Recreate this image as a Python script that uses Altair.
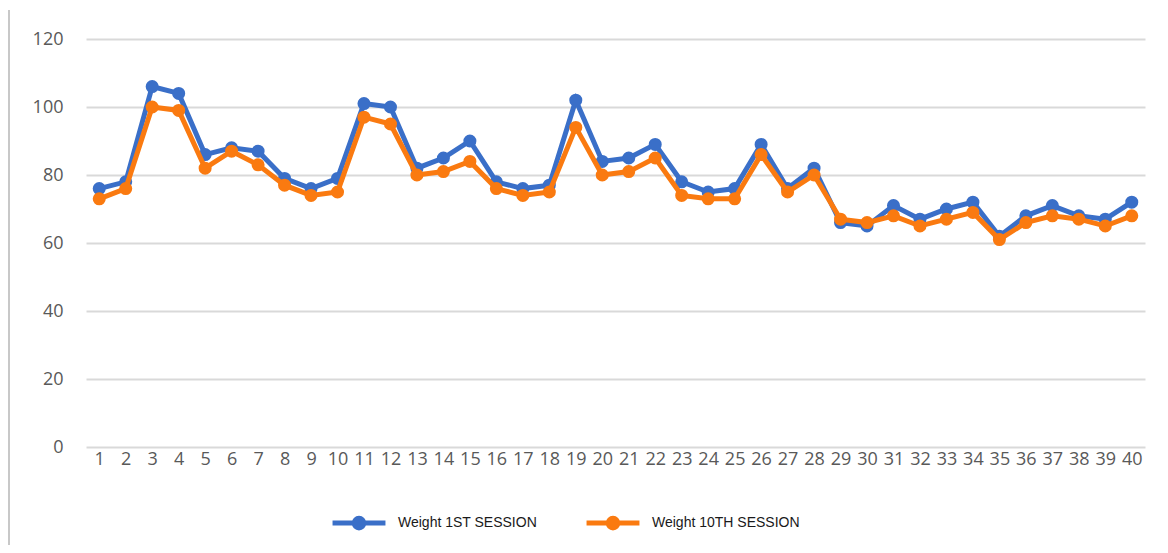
import altair as alt
import pandas as pd

sessions = list(range(1, 41))
weight_1st = [76, 78, 106, 104, 86, 88, 87, 79, 76, 79,
              101, 100, 82, 85, 90, 78, 76, 77, 102, 84,
              85, 89, 78, 75, 76, 89, 76, 82, 66, 65,
              71, 67, 70, 72, 62, 68, 71, 68, 67, 72]
weight_10th = [73, 76, 100, 99, 82, 87, 83, 77, 74, 75,
               97, 95, 80, 81, 84, 76, 74, 75, 94, 80,
               81, 85, 74, 73, 73, 86, 75, 80, 67, 66,
               68, 65, 67, 69, 61, 66, 68, 67, 65, 68]
series_names = ["Weight 1ST SESSION", "Weight 10TH SESSION"]
series_colors = ["#3a6fc8", "#fa7a10"]
y_ticks = [0, 20, 40, 60, 80, 100, 120]

rows = []
for s, v in zip(sessions, weight_1st):
    rows.append({"n": s, "weight": v, "series": series_names[0]})
for s, v in zip(sessions, weight_10th):
    rows.append({"n": s, "weight": v, "series": series_names[1]})
df = pd.DataFrame(rows)

legend_symbol = ("M -1,0 L 1,0 M -0.18,0 A 0.18,0.18 0 1,0 0.18,0 "
                 "A 0.18,0.18 0 1,0 -0.18,0 Z")

color = alt.Color(
    "series:N",
    scale=alt.Scale(domain=series_names, range=series_colors),
    legend=alt.Legend(
        title=None, orient="none", direction="horizontal",
        legendX=244, legendY=455, padding=0,
        symbolType=legend_symbol, symbolSize=2800, symbolStrokeWidth=5,
        symbolOpacity=1, labelFont="Liberation Sans", labelFontSize=14,
        labelColor="#1a1a1a", labelOffset=10, columnPadding=38,
        labelLimit=300,
    ),
)

x = alt.X("n:O", scale=alt.Scale(padding=0.5),
          axis=alt.Axis(title=None, labelAngle=0, labelOverlap=False,
                        domain=False, ticks=False, labelPadding=3,
                        labelFont="Open Sans", labelFontSize=18,
                        labelColor="#595959"))
y = alt.Y("weight:Q", scale=alt.Scale(domain=[0, 120], nice=False),
          axis=alt.Axis(title=None, values=y_ticks, domain=False, ticks=False,
                        grid=True, gridColor="#d9d9d9", gridWidth=2,
                        labelPadding=23, labelFont="Open Sans",
                        labelFontSize=18, labelColor="#595959"))

layers = []
for name in series_names:
    layers.append(
        alt.Chart(df).transform_filter(alt.datum.series == name)
        .mark_line(strokeWidth=5,
                   point=alt.OverlayMarkDef(size=170, filled=True, opacity=1))
        .encode(x=x, y=y, color=color)
    )

border = alt.Chart(df).mark_rule(color="#c8c8c8", strokeWidth=2).encode(
    x=alt.value(-77), y=alt.value(-29), y2=alt.value(520))

chart = alt.layer(border, *layers).properties(
    width=1059, height=408,
    autosize=alt.AutoSizeParams(type="none"),
    padding={"left": 78, "top": 31, "right": 15, "bottom": 98},
).configure_view(stroke=None)

chart.save("out.html", embed_options={"renderer": "svg", "actions": False})
